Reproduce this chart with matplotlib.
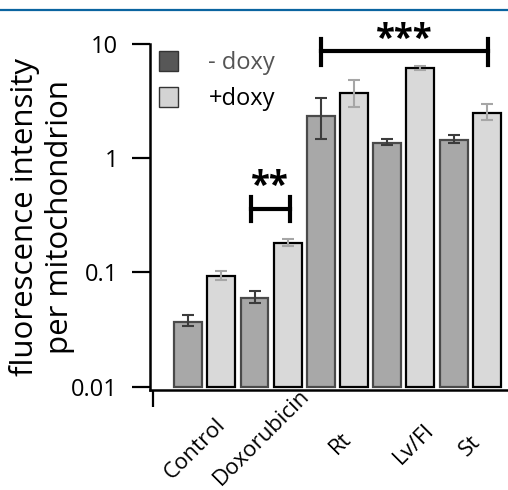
import matplotlib.pyplot as plt
from matplotlib.patches import Patch
from matplotlib.transforms import ScaledTranslation
import numpy as np

plt.rcParams['font.family'] = ['Open Sans', 'DejaVu Sans']

# data
groups = ["Control", "Doxorubicin", "Rt", "Lv/Fl", "St"]
minus_doxy = [0.0366, 0.0597, 2.32, 1.37, 1.45]
minus_err_lo = [0.0026, 0.0060, 0.85, 0.06, 0.08]
minus_err_hi = [0.0056, 0.0090, 1.03, 0.10, 0.14]
plus_doxy = [0.093, 0.182, 3.71, 6.13, 2.51]
plus_err_lo = [0.0072, 0.012, 0.88, 0.20, 0.35]
plus_err_hi = [0.0105, 0.014, 1.10, 0.29, 0.50]
legend_labels = ["- doxy", "+doxy"]
yticks = [0.01, 0.1, 1, 10]
ytick_labels = ["0.01", "0.1", "1", "10"]

dark_fill, dark_edge, dark_err = '#a8a8a8', '#4a4a4a', '#3c3c3c'
light_fill, light_edge, light_err = '#d9d9d9', '#000000', '#a6a6a6'

fig = plt.figure(figsize=(5.08, 4.90), dpi=100)
ax = fig.add_axes([0.2953, 0.2041, 0.7047, 0.7061])

# blue rule at the top of the figure
fig.add_artist(plt.Line2D([0, 1], [0.9796, 0.9796], color='#0a64a0', lw=1.6,
                          transform=fig.transFigure))

x = np.arange(len(groups))
xm = 2 * x
xp = 2 * x + 1
base = 0.01
w = 0.84

ax.bar(xm, np.array(minus_doxy) - base, bottom=base, width=w, color=dark_fill,
       edgecolor=dark_edge, linewidth=1.6, zorder=2)
ax.bar(xp, np.array(plus_doxy) - base, bottom=base, width=w, color=light_fill,
       edgecolor=light_edge, linewidth=1.6, zorder=2)
ax.errorbar(xm, minus_doxy, yerr=[minus_err_lo, minus_err_hi], fmt='none',
            ecolor=dark_err, elinewidth=1.5, capsize=4.5, capthick=1.5, zorder=3)
ax.errorbar(xp, plus_doxy, yerr=[plus_err_lo, plus_err_hi], fmt='none',
            ecolor=light_err, elinewidth=1.5, capsize=4.5, capthick=1.5, zorder=3)

ax.set_yscale('log')
ax.set_ylim(0.00935, 10)
ax.set_xlim(-1.15, 9.64)
ax.set_yticks(yticks)
ax.set_yticklabels(ytick_labels)
ax.yaxis.set_minor_locator(plt.NullLocator())
ax.tick_params(axis='y', which='major', length=13, width=1.6, pad=10,
               labelsize=17, direction='out')

# x ticks
ax.tick_params(axis='x', which='major', length=0, pad=0, labelsize=16)
ax.set_xticks([-1.05], minor=True)
ax.tick_params(axis='x', which='minor', length=12, width=1.6, direction='out')
ax.set_xticks(xm + 0.5)
ax.set_xticklabels(groups)

# labels placed by hand like the original (offset of the label centre, px)
offsets = [(-10, -59), (-9, -47), (3, -53), (10, -54), (0, -56)]
for lbl, (dx, dy) in zip(ax.get_xticklabels(), offsets):
    lbl.set_rotation(45)
    lbl.set_rotation_mode('default')
    lbl.set_horizontalalignment('center')
    lbl.set_verticalalignment('center')
    lbl.set_transform(lbl.get_transform() +
                      ScaledTranslation(dx / 100, dy / 100, fig.dpi_scale_trans))

for s in ['top', 'right']:
    ax.spines[s].set_visible(False)
for s in ['left', 'bottom']:
    ax.spines[s].set_linewidth(1.8)

ax.set_ylabel("fluorescence intensity\nper mitochondrion", fontsize=22.5,
              linespacing=1.22)
ax.yaxis.set_label_coords(-0.21, 0.5)

# legend
handles = [Patch(facecolor='#575757', edgecolor='#333333', linewidth=1),
           Patch(facecolor='#d3d3d3', edgecolor='#333333', linewidth=1)]
leg = ax.legend(handles, legend_labels, loc='upper left', bbox_to_anchor=(-0.015, 1.02),
                frameon=False, fontsize=17, handlelength=0.8, handleheight=0.9,
                handletextpad=1.3, labelspacing=0.5, borderaxespad=0.2)
leg.get_texts()[0].set_color('#555555')

# significance brackets
def bracket(x0, x1, y, ylo, yhi, label, ty, size):
    ax.plot([x0, x1], [y, y], color='black', lw=3, clip_on=False, zorder=4)
    for xx in (x0, x1):
        ax.plot([xx, xx], [ylo, yhi], color='black', lw=3, clip_on=False, zorder=4)
    ax.text((x0 + x1) / 2, ty, label, ha='center', va='center', fontsize=size,
            fontweight='bold', clip_on=False)

bracket(1.88, 3.06, 0.358, 0.281, 0.456, "**", 0.557, 25)
bracket(4.0, 9.03, 8.63, 6.51, 11.0, "***", 10.8, 25)

fig.savefig('out.png', dpi=100)
